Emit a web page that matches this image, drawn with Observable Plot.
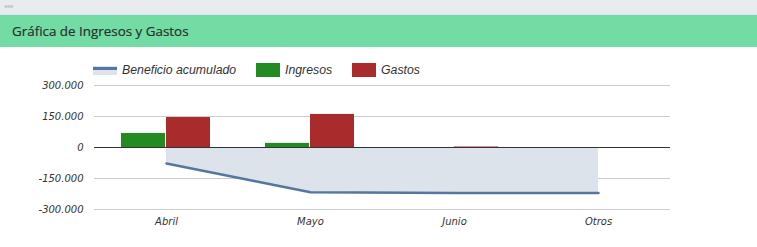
<!DOCTYPE html>
<html>
<head>
<meta charset="utf-8">
<script src="https://cdn.jsdelivr.net/npm/d3@7"></script>
<script src="https://cdn.jsdelivr.net/npm/@observablehq/plot@0.6"></script>
<style>
  html, body { margin: 0; padding: 0; background: #fff; }
  body { width: 757px; height: 247px; overflow: hidden; font-family: "Liberation Sans", Arial, sans-serif; }
  #topbar { height: 14px; background: #e9ecef; border-bottom: 1px solid #d6e4f5; position: relative; }
  #topbar span { position: absolute; left: 4px; top: 2px; font-size: 11px; color: #c4c8cc; line-height: 9px; letter-spacing: -1px; }
  #header { height: 32px; background: #72dca4; color: #2b2f2d; font-family: "Open Sans", sans-serif; font-size: 13.4px; line-height: 32px; padding-left: 12px; -webkit-text-stroke: 0.2px #2b2f2d; }
  #legend { position: relative; height: 32px; font-style: italic; font-size: 12.3px; color: #333; }
  .item { position: absolute; top: 16px; display: flex; align-items: center; height: 14px; }
  .sw { width: 24px; height: 14px; margin-right: 5px; }
  .lineSw { width: 24px; height: 9px; margin-right: 5px; background: #dde3eb; position: relative; }
  .lineSw::before { content: ""; position: absolute; left: 0; right: 0; top: 1px; height: 3px; background: #55779f; }
  #chart { position: absolute; left: 0; top: 78px; }
</style>
</head>
<body>
<div id="topbar"><span>&#8226;&#8226;&#8226;</span></div>
<div id="header">Gráfica de Ingresos y Gastos</div>
<div id="legend"></div>
<div id="chart"></div>
<script>
const categories = ["Abril", "Mayo", "Junio", "Otros"];
const ingresos = [68000, 20000, 0, 0];
const gastos = [145000, 160000, 2500, 0];
const beneficioAcumulado = [-77000, -217000, -220000, -220000];
const yTicks = [-300000, -150000, 0, 150000, 300000];
const seriesNames = ["Beneficio acumulado", "Ingresos", "Gastos"];
const seriesColors = ["#55779f", "#228b22", "#aa2b2c"];

// legend
const legend = document.getElementById("legend");
const legendX = [93, 256, 352];
seriesNames.forEach((name, i) => {
  const d = document.createElement("div");
  d.className = "item";
  d.style.left = legendX[i] + "px";
  const sw = document.createElement("div");
  if (i === 0) { sw.className = "lineSw"; }
  else { sw.className = "sw"; sw.style.background = seriesColors[i]; }
  d.appendChild(sw);
  const t = document.createElement("span");
  t.textContent = name;
  d.appendChild(t);
  legend.appendChild(d);
});

const rows = categories.map((c, i) => ({
  cat: c, ingresos: ingresos[i], gastos: gastos[i], acum: beneficioAcumulado[i]
}));

const fmt = d => d3.format(",")(d).replace(/,/g, ".").replace("−", "-");

const chart = Plot.plot({
  width: 757,
  height: 169,
  marginTop: 7,
  marginBottom: 38,
  marginLeft: 94,
  marginRight: 87,
  style: { fontFamily: "DejaVu Sans, Verdana, sans-serif", fontSize: "10px", fontStyle: "italic", color: "#333", background: "transparent" },
  x: { domain: categories, padding: 0, label: null, tickSize: 0, tickPadding: 8 },
  y: { domain: [-300000, 300000], ticks: yTicks, tickFormat: fmt, label: null, tickSize: 0, tickPadding: 11 },
  marks: [
    Plot.ruleY(yTicks.filter(d => d !== 0), { stroke: "#cccccc", strokeOpacity: 1 }),
    Plot.areaY(rows, { x: "cat", y1: 0, y2: "acum", fill: "#dde3eb", fillOpacity: 1 }),
    Plot.barY(rows, { x: "cat", y: "ingresos", fill: seriesColors[1], insetLeft: 27, insetRight: 73 }),
    Plot.barY(rows, { x: "cat", y: "gastos", fill: seriesColors[2], insetLeft: 72, insetRight: 28 }),
    Plot.ruleY([0], { stroke: "#333", strokeWidth: 1.2 }),
    Plot.line(rows, { x: "cat", y: "acum", stroke: seriesColors[0], strokeWidth: 2.5 })
  ]
});
document.getElementById("chart").appendChild(chart);
</script>
</body>
</html>
